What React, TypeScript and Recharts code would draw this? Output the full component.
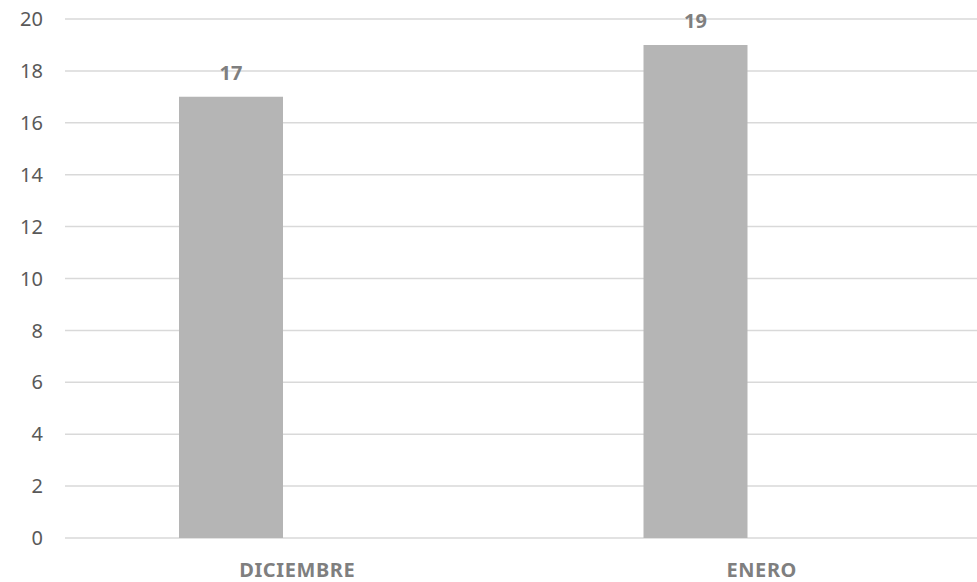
import { BarChart, Bar, XAxis, YAxis, CartesianGrid, LabelList } from "recharts";

const months = ["DICIEMBRE", "ENERO"];
const counts = [17, 19];
const yTicks = [0, 2, 4, 6, 8, 10, 12, 14, 16, 18, 20];

const data = months.map((month, i) => ({ month, count: counts[i] }));

const FONT = "'Noto Sans', 'Open Sans', sans-serif";

export default function App() {
  return (
    <div
      style={{
        position: "absolute",
        left: 0,
        top: 0,
        width: 977,
        height: 582,
        overflow: "hidden",
        background: "#fff",
      }}
    >
      <BarChart
        width={994}
        height={582}
        data={data}
        margin={{ top: 19, right: 0, bottom: 0, left: 0 }}
      >
        <CartesianGrid horizontal vertical={false} stroke="#d9d9d9" strokeWidth={1.5} />
        <XAxis
          dataKey="month"
          height={44}
          axisLine={false}
          tickLine={false}
          tickMargin={19}
          tick={{
            fill: "#7f7f7f",
            fontSize: 20,
            fontWeight: 700,
            fontFamily: FONT,
            letterSpacing: 0.6,
          }}
        />
        <XAxis xAxisId="bar" dataKey="month" hide padding={{ left: -66, right: 66 }} />
        <YAxis
          width={65}
          domain={[0, 20]}
          ticks={yTicks}
          axisLine={false}
          tickLine={false}
          tickMargin={16}
          tick={{ fill: "#595959", fontSize: 20, fontFamily: FONT }}
        />
        <Bar
          xAxisId="bar"
          dataKey="count"
          fill="#b5b5b5"
          barSize={104}
          isAnimationActive={false}
        >
          <LabelList
            dataKey="count"
            position="top"
            offset={17}
            fill="#7f7f7f"
            fontSize={20}
            fontWeight={700}
            fontFamily={FONT}
          />
        </Bar>
      </BarChart>
    </div>
  );
}
